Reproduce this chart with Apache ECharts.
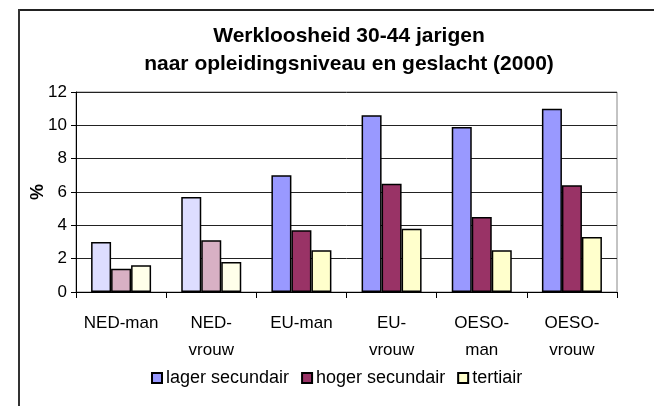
<!DOCTYPE html>
<html lang="nl">
<head>
    <meta charset="UTF-8">
    <title>Werkloosheid 30-44 jarigen</title>
    <script src="https://cdn.jsdelivr.net/npm/echarts@6/dist/echarts.min.js"></script>
    <style>
        body { margin: 0; background: #fff; }
        #chart { width: 654px; height: 406px; }
    </style>
</head>
<body>
<div id="chart"></div>
<script type="text/javascript">
    var categories = ['NED-man', 'NED-\nvrouw', 'EU-man', 'EU-\nvrouw', 'OESO-\nman', 'OESO-\nvrouw'];
    var seriesNames = ['lager secundair', 'hoger secundair', 'tertiair'];
    var lagerSecundair = [3.0, 5.7, 7.0, 10.6, 9.9, 11.0];
    var hogerSecundair = [1.4, 3.1, 3.7, 6.5, 4.5, 6.4];
    var tertiair = [1.6, 1.8, 2.5, 3.8, 2.5, 3.3];

    // kleuren: normaal en licht (voor de NED-staven)
    var colors = ['#9999FF', '#993366', '#FFFFCC'];
    var lightColors = ['#DDDDFF', '#D8B0C4', '#FFFFEA'];

    function makeData(values, idx) {
        return values.map(function (v, i) {
            if (i < 2) {
                return { value: v, itemStyle: { color: lightColors[idx] } };
            }
            return v;
        });
    }

    var myChart = echarts.init(document.getElementById('chart'));
    var option = {
        animation: false,
        textStyle: { fontFamily: 'Liberation Sans, Arial, sans-serif' },
        title: {
            text: 'Werkloosheid 30-44 jarigen\nnaar opleidingsniveau en geslacht (2000)',
            left: 344,
            textAlign: 'center',
            top: 17,
            textStyle: { fontSize: 21, fontWeight: 'bold', color: '#000', lineHeight: 28 }
        },
        legend: {
            data: seriesNames,
            left: 146,
            bottom: 14,
            itemWidth: 10,
            itemHeight: 10,
            itemGap: 12,
            icon: 'rect',
            textStyle: { fontSize: 18, color: '#000', padding: [0, 0, 0, -1] }
        },
        grid: {
            left: 76,
            right: 37,
            top: 92,
            bottom: 114,
            show: true,
            borderColor: '#888',
            borderWidth: 1
        },
        xAxis: {
            type: 'category',
            data: categories,
            axisLine: { lineStyle: { color: '#000', width: 1 } },
            axisTick: { show: true, length: 6, lineStyle: { color: '#000' } },
            axisLabel: { fontSize: 17, color: '#000', margin: 18, lineHeight: 27, interval: 0 }
        },
        yAxis: {
            type: 'value',
            min: 0,
            max: 12,
            interval: 2,
            name: '%',
            nameLocation: 'middle',
            nameRotate: 90,
            nameGap: 29,
            nameMoveOverlap: false,
            nameTextStyle: { fontSize: 18, fontWeight: 'bold', color: '#000' },
            axisLine: { show: true, lineStyle: { color: '#000' } },
            axisTick: { show: true, length: 5, lineStyle: { color: '#000' } },
            axisLabel: { fontSize: 17, color: '#000', margin: 9 },
            splitLine: { lineStyle: { color: '#222', width: 1 } }
        },
        series: [
            {
                name: seriesNames[0],
                type: 'bar',
                data: makeData(lagerSecundair, 0),
                barWidth: 20,
                barGap: '0%',
                itemStyle: { color: colors[0], borderColor: '#000', borderWidth: 1.5 }
            },
            {
                name: seriesNames[1],
                type: 'bar',
                data: makeData(hogerSecundair, 1),
                barWidth: 20,
                barGap: '0%',
                itemStyle: { color: colors[1], borderColor: '#000', borderWidth: 1.5 }
            },
            {
                name: seriesNames[2],
                type: 'bar',
                data: makeData(tertiair, 2),
                barWidth: 20,
                barGap: '0%',
                itemStyle: { color: colors[2], borderColor: '#000', borderWidth: 1.5 }
            }
        ],
        graphic: [
            { type: 'line', shape: { x1: 18, y1: 10, x2: 654, y2: 10 }, style: { stroke: '#222', lineWidth: 2 } },
            { type: 'line', shape: { x1: 19, y1: 9, x2: 19, y2: 406 }, style: { stroke: '#333', lineWidth: 2 } }
        ]
    };
    myChart.setOption(option);
</script>
</body>
</html>
